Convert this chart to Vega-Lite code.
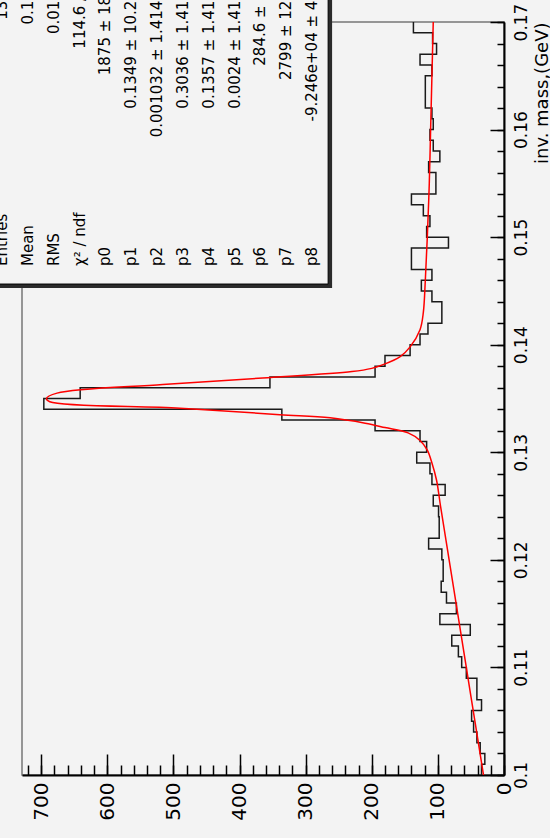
{
  "$schema": "https://vega.github.io/schema/vega-lite/v6.json",
  "width": 482,
  "height": 753,
  "autosize": {"type": "none"},
  "padding": {"left": 22, "top": 22, "right": 46, "bottom": 63},
  "background": "#f3f3f3",
  "config": {
    "view": {"stroke": "#777777", "strokeWidth": 1.5},
    "font": "DejaVu Sans",
    "axis": {"grid": false, "labelColor": "#000000", "tickColor": "#000000", "domainColor": "#000000", "titleColor": "#000000", "labelFlush": false, "labelOverlap": false}
  },
  "datasets": {
    "hist": [
      {"m": 0.100, "n": 34}, {"m": 0.101, "n": 29}, {"m": 0.102, "n": 36}, {"m": 0.103, "n": 41},
      {"m": 0.104, "n": 46}, {"m": 0.105, "n": 49}, {"m": 0.106, "n": 34}, {"m": 0.107, "n": 41},
      {"m": 0.108, "n": 41}, {"m": 0.109, "n": 57}, {"m": 0.110, "n": 64}, {"m": 0.111, "n": 69},
      {"m": 0.112, "n": 79}, {"m": 0.113, "n": 51}, {"m": 0.114, "n": 97}, {"m": 0.115, "n": 72},
      {"m": 0.116, "n": 87}, {"m": 0.117, "n": 95}, {"m": 0.118, "n": 92}, {"m": 0.119, "n": 92},
      {"m": 0.120, "n": 94}, {"m": 0.121, "n": 114}, {"m": 0.122, "n": 98}, {"m": 0.123, "n": 98},
      {"m": 0.124, "n": 99}, {"m": 0.125, "n": 107}, {"m": 0.126, "n": 89}, {"m": 0.127, "n": 109},
      {"m": 0.128, "n": 112}, {"m": 0.129, "n": 132}, {"m": 0.130, "n": 117}, {"m": 0.131, "n": 127},
      {"m": 0.132, "n": 195}, {"m": 0.133, "n": 336}, {"m": 0.134, "n": 696}, {"m": 0.135, "n": 641},
      {"m": 0.136, "n": 354}, {"m": 0.137, "n": 195}, {"m": 0.138, "n": 180}, {"m": 0.139, "n": 142},
      {"m": 0.140, "n": 127}, {"m": 0.141, "n": 115}, {"m": 0.142, "n": 94}, {"m": 0.143, "n": 94},
      {"m": 0.144, "n": 109}, {"m": 0.145, "n": 125}, {"m": 0.146, "n": 109}, {"m": 0.147, "n": 140},
      {"m": 0.148, "n": 140}, {"m": 0.149, "n": 84}, {"m": 0.150, "n": 117}, {"m": 0.151, "n": 112},
      {"m": 0.152, "n": 122}, {"m": 0.153, "n": 140}, {"m": 0.154, "n": 103}, {"m": 0.155, "n": 103},
      {"m": 0.156, "n": 114}, {"m": 0.157, "n": 97}, {"m": 0.158, "n": 107}, {"m": 0.159, "n": 112},
      {"m": 0.160, "n": 107}, {"m": 0.161, "n": 109}, {"m": 0.162, "n": 119}, {"m": 0.163, "n": 119},
      {"m": 0.164, "n": 119}, {"m": 0.165, "n": 109}, {"m": 0.166, "n": 127}, {"m": 0.167, "n": 102},
      {"m": 0.168, "n": 108}, {"m": 0.169, "n": 137}, {"m": 0.170, "n": 137}
    ],
    "fit": [
      {"m": 0.1000, "f": 31}, {"m": 0.1050, "f": 44}, {"m": 0.1100, "f": 57}, {"m": 0.1150, "f": 70},
      {"m": 0.1200, "f": 83}, {"m": 0.1250, "f": 96}, {"m": 0.1274, "f": 102}, {"m": 0.1290, "f": 109},
      {"m": 0.1302, "f": 116}, {"m": 0.1311, "f": 127}, {"m": 0.1318, "f": 145}, {"m": 0.1323, "f": 180},
      {"m": 0.1327, "f": 210}, {"m": 0.1332, "f": 263}, {"m": 0.1335, "f": 339}, {"m": 0.1341, "f": 490},
      {"m": 0.1347, "f": 687}, {"m": 0.1350, "f": 692}, {"m": 0.1355, "f": 676}, {"m": 0.1363, "f": 516},
      {"m": 0.1369, "f": 365}, {"m": 0.1375, "f": 230}, {"m": 0.1378, "f": 200}, {"m": 0.1381, "f": 185},
      {"m": 0.1389, "f": 157}, {"m": 0.1398, "f": 142}, {"m": 0.1414, "f": 127}, {"m": 0.1430, "f": 122},
      {"m": 0.1460, "f": 119}, {"m": 0.1500, "f": 116}, {"m": 0.1550, "f": 113}, {"m": 0.1600, "f": 111},
      {"m": 0.1650, "f": 109}, {"m": 0.1700, "f": 107}
    ],
    "stats": [
      {"stat": "Entries", "val": "13690"},
      {"stat": "Mean", "val": "0.1358"},
      {"stat": "RMS", "val": "0.01703"},
      {"stat": "χ² / ndf", "val": "114.6 / 61"},
      {"stat": "p0", "val": "1875 ± 18.15"},
      {"stat": "p1", "val": "0.1349 ± 10.2362"},
      {"stat": "p2", "val": "0.001032 ± 1.414214"},
      {"stat": "p3", "val": "0.3036 ± 1.41421"},
      {"stat": "p4", "val": "0.1357 ± 1.41421"},
      {"stat": "p5", "val": "0.0024 ± 1.41421"},
      {"stat": "p6", "val": "284.6 ± 105"},
      {"stat": "p7", "val": "2799 ± 12345"},
      {"stat": "p8", "val": "-9.246e+04 ± 4321"}
    ]
  },
  "layer": [
    {
      "data": {"name": "hist"},
      "mark": {"type": "line", "interpolate": "step-before", "color": "#1a1a1a", "strokeWidth": 1.5},
      "encoding": {
        "order": {"field": "m", "type": "quantitative"},
        "x": {
          "field": "n", "type": "quantitative",
          "scale": {"domain": [0, 729], "reverse": true, "nice": false, "zero": false},
          "axis": {
            "orient": "bottom", "title": null,
            "values": [0, 100, 200, 300, 400, 500, 600, 700],
            "ticks": false, "labelPadding": 7,
            "labelAngle": 270, "labelAlign": "right", "labelBaseline": "middle",
            "labelFontSize": 20, "domainWidth": 2
          }
        },
        "y": {
          "field": "m", "type": "quantitative",
          "scale": {"domain": [0.1, 0.17], "nice": false, "zero": false},
          "axis": {
            "orient": "right",
            "values": [0.1, 0.11, 0.12, 0.13, 0.14, 0.15, 0.16, 0.17],
            "format": ".2~f",
            "ticks": false, "labelPadding": 9,
            "labelAngle": 270, "labelAlign": "center", "labelBaseline": "top",
            "labelFontSize": 17, "domainWidth": 2,
            "title": "inv. mass,(GeV)", "titleAngle": 270, "titleAnchor": "end",
            "titleAlign": "right", "titleBaseline": "top", "titleFontSize": 18,
            "titleFontWeight": "normal", "titlePadding": 4
          }
        }
      }
    },
    {
      "data": {"name": "fit"},
      "mark": {"type": "line", "interpolate": "catmull-rom", "color": "#ff0000", "strokeWidth": 1.5},
      "encoding": {
        "order": {"field": "m", "type": "quantitative"},
        "x": {
          "field": "f", "type": "quantitative",
          "scale": {"domain": [0, 729], "reverse": true, "nice": false, "zero": false},
          "axis": {
            "orient": "bottom", "title": null, "labels": false, "domain": false,
            "values": [0, 100, 200, 300, 400, 500, 600, 700],
            "offset": -21, "tickSize": 21, "tickWidth": 1.5
          }
        },
        "y": {
          "field": "m", "type": "quantitative",
          "scale": {"domain": [0.1, 0.17], "nice": false, "zero": false},
          "axis": {
            "orient": "right", "title": null, "labels": false, "domain": false,
            "values": [0.1, 0.11, 0.12, 0.13, 0.14, 0.15, 0.16, 0.17],
            "offset": -14, "tickSize": 14, "tickWidth": 1.5
          }
        }
      }
    },
    {
      "data": {"values": [{}]},
      "mark": {"type": "rect", "color": "#2a2a2a"},
      "encoding": {
        "x": {"datum": 800, "type": "quantitative", "scale": {"domain": [0, 729], "reverse": true, "nice": false, "zero": false},
              "axis": {
                "orient": "bottom", "title": null, "labels": false, "domain": false,
                "values": [0, 20, 40, 60, 80, 100, 120, 140, 160, 180, 200, 220, 240, 260, 280, 300, 320, 340, 360, 380, 400, 420, 440, 460, 480, 500, 520, 540, 560, 580, 600, 620, 640, 660, 680, 700, 720],
                "offset": -10, "tickSize": 10, "tickWidth": 1.5
              }},
        "x2": {"datum": 260},
        "y": {"datum": 0.176, "type": "quantitative", "scale": {"domain": [0.1, 0.17], "nice": false, "zero": false},
              "axis": {
                "orient": "right", "title": null, "labels": false, "domain": false,
                "values": [0.1, 0.102, 0.104, 0.106, 0.108, 0.11, 0.112, 0.114, 0.116, 0.118, 0.12, 0.122, 0.124, 0.126, 0.128, 0.13, 0.132, 0.134, 0.136, 0.138, 0.14, 0.142, 0.144, 0.146, 0.148, 0.15, 0.152, 0.154, 0.156, 0.158, 0.16, 0.162, 0.164, 0.166, 0.168, 0.17],
                "offset": -7, "tickSize": 7, "tickWidth": 1.5
              }},
        "y2": {"datum": 0.14527}
      }
    },
    {
      "data": {"values": [{}]},
      "mark": {"type": "rect", "fill": "#f3f3f3", "stroke": "#000000", "strokeWidth": 1},
      "encoding": {
        "x": {"datum": 800, "type": "quantitative", "scale": {"domain": [0, 729], "reverse": true, "nice": false, "zero": false}, "axis": null},
        "x2": {"datum": 266},
        "y": {"datum": 0.176, "type": "quantitative", "scale": {"domain": [0.1, 0.17], "nice": false, "zero": false}, "axis": null},
        "y2": {"datum": 0.14564}
      }
    },
    {
      "data": {"name": "stats"},
      "mark": {"type": "text", "angle": 270, "align": "left", "baseline": "middle", "fontSize": 15, "color": "#000000"},
      "encoding": {
        "text": {"field": "stat"},
        "x": {"field": "stat", "type": "nominal", "sort": null, "axis": null,
              "scale": {"type": "point", "domain": ["Entries", "Mean", "RMS", "χ² / ndf", "p0", "p1", "p2", "p3", "p4", "p5", "p6", "p7", "p8"], "range": [-20, 290], "padding": 0}},
        "y": {"datum": "label", "type": "nominal", "axis": null,
              "scale": {"type": "point", "domain": ["label", "value"], "range": [244, -50], "padding": 0}}
      }
    },
    {
      "data": {"name": "stats"},
      "mark": {"type": "text", "angle": 270, "align": "right", "baseline": "middle", "fontSize": 15, "color": "#000000"},
      "encoding": {
        "text": {"field": "val"},
        "x": {"field": "stat", "type": "nominal", "sort": null, "axis": null,
              "scale": {"type": "point", "domain": ["Entries", "Mean", "RMS", "χ² / ndf", "p0", "p1", "p2", "p3", "p4", "p5", "p6", "p7", "p8"], "range": [-20, 290], "padding": 0}},
        "y": {"datum": "value", "type": "nominal", "axis": null,
              "scale": {"type": "point", "domain": ["label", "value"], "range": [244, -50], "padding": 0}}
      }
    }
  ],
  "resolve": {
    "scale": {"x": "independent", "y": "independent"},
    "axis": {"x": "independent", "y": "independent"}
  }
}
